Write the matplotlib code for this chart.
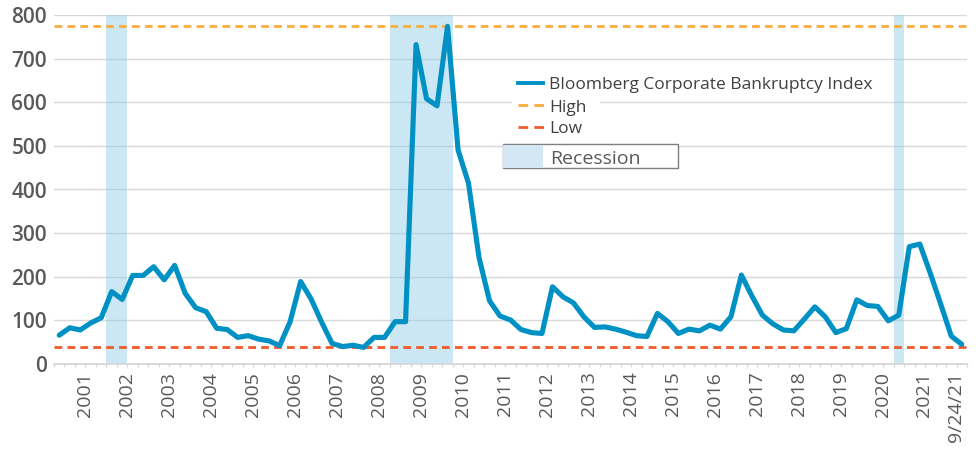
import numpy as np
import matplotlib
matplotlib.use("Agg")
import matplotlib.pyplot as plt
from matplotlib.lines import Line2D
from matplotlib.patches import Rectangle

# ---------------- data ----------------
bankruptcy_index = [
    66, 83, 78, 94, 106, 166, 148, 203, 203, 223,
    193, 226, 162, 129, 120, 82, 79, 61, 65, 57,
    53, 42, 97, 189, 149, 96, 47, 40, 43, 38,
    61, 61, 97, 97, 732, 608, 592, 774, 491, 414,
    244, 145, 110, 101, 79, 72, 70, 177, 154, 140,
    108, 84, 85, 80, 73, 65, 63, 116, 97, 70,
    80, 76, 89, 80, 108, 204, 156, 112, 92, 78,
    76, 103, 131, 108, 72, 81, 147, 134, 132, 99,
    112, 269, 275, 208, 137, 64, 45,
]
high_value = 774
low_value = 38

# category index ranges (inclusive) shaded as recessions
recessions = [(5, 6), (32, 37), (80, 80)]

tick_labels = [str(y) for y in range(2001, 2022)] + ["9/24/21"]
tick_label_idx = list(range(3, 84, 4)) + [86]

yticks = list(range(0, 801, 100))

# ---------------- style ----------------
FONT = "Open Sans"
plt.rcParams["font.family"] = [FONT, "DejaVu Sans"]

W, H = 980, 461
fig = plt.figure(figsize=(W / 100, H / 100), dpi=100)
ax = fig.add_axes([54 / W, (H - 364) / H, (967 - 54) / W, (364 - 15) / H])

x = np.arange(len(bankruptcy_index))

BLUE = "#0091C4"
ORANGE = "#FBAE3F"
RED = "#F15A29"
BAND = "#8CCBE6"
GRID = "#D9D9D9"
TXT = "#595959"

for s, e in recessions:
    ax.axvspan(s - 0.5, e + 0.5, color=BAND, alpha=0.45, lw=0, zorder=1)

ax.axhline(high_value, color=ORANGE, lw=2.0, ls=(0, (2.8, 1.85)), zorder=2)
ax.axhline(low_value, color=RED, lw=2.0, ls=(0, (2.8, 1.85)), zorder=2)
ax.plot(x, bankruptcy_index, color=BLUE, lw=3.7, solid_joinstyle="round",
        solid_capstyle="round", zorder=3)

ax.set_xlim(-0.5, len(bankruptcy_index) - 0.5)
ax.set_ylim(0, 800)
ax.set_axisbelow(True)
ax.yaxis.grid(True, color=GRID, lw=1.0)
ax.set_yticks(yticks)
ax.set_yticklabels([str(v) for v in yticks], fontsize=15, color=TXT,
                   fontweight="semibold")
ax.tick_params(axis="y", length=0, pad=5.0)

ax.set_xticks([i - 0.55 for i in tick_label_idx])
ax.set_xticklabels(tick_labels, rotation=90, fontsize=14, color=TXT)
ax.tick_params(axis="x", which="major", length=0, pad=5.5)
ax.set_xticks(np.arange(-0.5, len(bankruptcy_index), 1), minor=True)
ax.tick_params(axis="x", which="minor", length=2.5, width=1, color=GRID)

for sp in ["top", "right", "left"]:
    ax.spines[sp].set_visible(False)
ax.spines["bottom"].set_color(GRID)
ax.spines["bottom"].set_linewidth(1.4)

# ---------------- legend (pixel placement) ----------------
def fx(px):
    return px / W

def fy(py):
    return 1 - py / H

tf = fig.transFigure
LEG = "#404040"
fig.add_artist(Rectangle((fx(511.7), fy(114)), fx(600) - fx(511.7), fy(96) - fy(114),
                         transform=tf, facecolor="white", edgecolor="none", zorder=4))
fig.add_artist(Line2D([fx(518), fx(543)], [fy(83.3), fy(83.3)], transform=tf,
                      color=BLUE, lw=2.8, zorder=5))
fig.add_artist(Line2D([fx(518), fx(544)], [fy(105), fy(105)], transform=tf,
                      color=ORANGE, lw=2.0, ls=(0, (3.5, 2.2)), zorder=5))
fig.add_artist(Line2D([fx(518), fx(544)], [fy(126.7), fy(126.7)], transform=tf,
                      color=RED, lw=2.0, ls=(0, (3.5, 2.2)), zorder=5))
fig.text(fx(549.3), fy(89.3), "Bloomberg Corporate Bankruptcy Index", fontsize=12.5,
         color=LEG, va="baseline", ha="left", zorder=6)
fig.text(fx(549.3), fy(111.7), "High", fontsize=12.5, color=LEG, va="baseline",
         ha="left", zorder=6)
fig.text(fx(549.3), fy(133.3), "Low", fontsize=12.5, color=LEG, va="baseline",
         ha="left", zorder=6)

fig.add_artist(Rectangle((fx(502.7), fy(168.3)), fx(678.3) - fx(502.7), fy(144) - fy(168.3),
                         transform=tf, facecolor="white", edgecolor="#7F7F7F", lw=1.0,
                         zorder=4))
fig.add_artist(Rectangle((fx(503.4), fy(167.6)), fx(542.7) - fx(503.4), fy(144.7) - fy(167.6),
                         transform=tf, facecolor="#D3E7F4", edgecolor="none", zorder=5))
fig.text(fx(550), fy(164.3), "Recession", fontsize=14, color=TXT, va="baseline",
         ha="left", zorder=6)

fig.savefig("out.png", dpi=100)
